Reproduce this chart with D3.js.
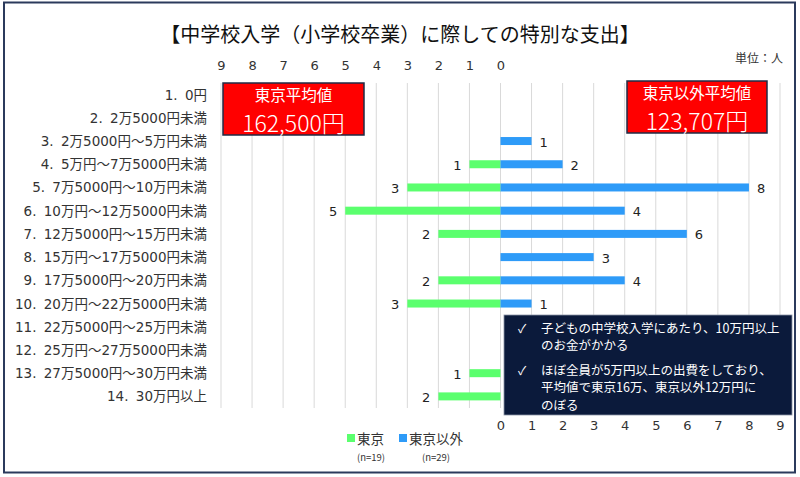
<!DOCTYPE html>
<html><head><meta charset="utf-8">
<script src="https://cdn.jsdelivr.net/npm/d3@7"></script>
<style>body{margin:0;background:#fff}svg{display:block;font-family:"Noto Sans CJK JP","Noto Sans",sans-serif}</style>
</head><body><svg id="c" width="800" height="477"></svg>
<script>
const categories = ["1. 0円","2. 2万5000円未満","3. 2万5000円～5万円未満","4. 5万円～7万5000円未満","5. 7万5000円～10万円未満","6. 10万円～12万5000円未満","7. 12万5000円～15万円未満","8. 15万円～17万5000円未満","9. 17万5000円～20万円未満","10. 20万円～22万5000円未満","11. 22万5000円～25万円未満","12. 25万円～27万5000円未満","13. 27万5000円～30万円未満","14. 30万円以上"];
const tokyo = [0,0,0,1,3,5,2,0,2,3,0,0,1,2];
const other = [0,0,1,2,8,4,6,3,4,1,0,0,0,0];
const ticks = [0,1,2,3,4,5,6,7,8,9];
const seriesNames = ["東京","東京以外"];
const seriesN = ["(n=19)","(n=29)"];
const title = "【中学校入学（小学校卒業）に際しての特別な支出】";
const unitLabel = "単位：人";
const avgLabels = ["東京平均値","東京以外平均値"];
const avgValues = ["162,500円","123,707円"];
const notes = [["子どもの中学校入学にあたり、10万円以上","のお金がかかる"],["ほぼ全員が5万円以上の出費をしており、","平均値で東京16万、東京以外12万円に","のぼる"]];

const GREEN="#5BFF6E", BLUE="#2E9BF8";
const LATIN='"DejaVu Sans","Noto Sans CJK JP",sans-serif';
const svg = d3.select("#c");
const x = d3.scaleLinear().domain([-9,9]).range([221,780]);
const y = d3.scaleBand().domain(categories).range([83,408]);

// frame
svg.append("rect").attr("x",4).attr("y",2.5).attr("width",791).attr("height",470)
  .attr("fill","#fff").attr("stroke","#2b3a5c").attr("stroke-width",2);

svg.append("text").attr("x",400).attr("y",33).attr("text-anchor","middle")
  .attr("dominant-baseline","central").attr("font-size",20).attr("fill","#111").text(title);
svg.append("text").attr("x",783).attr("y",57).attr("text-anchor","end")
  .attr("dominant-baseline","central").attr("font-size",12).attr("fill","#333").text(unitLabel);

// gridlines
const gridVals = d3.range(-9,10);
svg.append("g").selectAll("line").data(gridVals).join("line")
  .attr("x1",d=>x(d)).attr("x2",d=>x(d)).attr("y1",83).attr("y2",408)
  .attr("stroke","#d9d9d9").attr("stroke-width",1);

// axes
const topAx = svg.append("g").attr("transform","translate(0,70)")
  .call(d3.axisTop(x).tickValues(ticks.map(t=>-t)).tickFormat(d=>Math.abs(d)).tickSize(0).tickPadding(0));
const botAx = svg.append("g").attr("transform","translate(0,421)")
  .call(d3.axisBottom(x).tickValues(ticks).tickFormat(d=>d).tickSize(0).tickPadding(0));
[topAx,botAx].forEach(g=>{
  g.attr("font-family",null).attr("font-size",null);
  g.select(".domain").remove();
  g.selectAll("text").attr("font-size",13).attr("fill","#333").style("font-family",LATIN);
});

// category labels: prefix number + rest
const cat = svg.append("g").selectAll("text").data(categories).join("text")
  .attr("x",207).attr("y",d=>y(d)+y.bandwidth()/2).attr("text-anchor","end")
  .attr("dominant-baseline","central").attr("font-size",13.5).attr("fill","#333")
  .style("font-family",LATIN);
cat.append("tspan").text(d=>d.split(" ")[0]);
cat.append("tspan").attr("dx",3).text(d=>" "+d.split(" ").slice(1).join(" "));

const bh = 8;
const rows = categories.map((c,i)=>({c,t:tokyo[i],o:other[i]}));
svg.append("g").selectAll("rect").data(rows.filter(d=>d.t>0)).join("rect")
  .attr("x",d=>x(-d.t)).attr("width",d=>x(0)-x(-d.t))
  .attr("y",d=>y(d.c)+y.bandwidth()/2-bh/2).attr("height",bh).attr("fill",GREEN);
svg.append("g").selectAll("rect").data(rows.filter(d=>d.o>0)).join("rect")
  .attr("x",x(0)).attr("width",d=>x(d.o)-x(0))
  .attr("y",d=>y(d.c)+y.bandwidth()/2-bh/2).attr("height",bh).attr("fill",BLUE);
svg.append("g").selectAll("text").data(rows.filter(d=>d.t>0)).join("text")
  .attr("x",d=>x(-d.t)-8).attr("y",d=>y(d.c)+y.bandwidth()/2+1).attr("text-anchor","end")
  .attr("dominant-baseline","central").attr("font-size",13).attr("fill","#222")
  .style("font-family",LATIN).text(d=>d.t);
svg.append("g").selectAll("text").data(rows.filter(d=>d.o>0)).join("text")
  .attr("x",d=>x(d.o)+8).attr("y",d=>y(d.c)+y.bandwidth()/2+1).attr("text-anchor","start")
  .attr("dominant-baseline","central").attr("font-size",13).attr("fill","#222")
  .style("font-family",LATIN).text(d=>d.o);

// average boxes
const boxes=[{x:223,y:83,w:141,h:52},{x:627,y:81,w:140,h:52}];
boxes.forEach((b,i)=>{
  svg.append("rect").attr("x",b.x).attr("y",b.y).attr("width",b.w).attr("height",b.h)
    .attr("fill","#FF0000").attr("stroke","#1f2b45").attr("stroke-width",1.5);
  svg.append("text").attr("x",b.x+b.w/2).attr("y",b.y+11).attr("text-anchor","middle")
    .attr("dominant-baseline","central").attr("font-size",15.5).attr("fill","#fff").text(avgLabels[i]);
  svg.append("text").attr("x",b.x+b.w/2).attr("y",b.y+39).attr("text-anchor","middle")
    .attr("dominant-baseline","central").attr("font-size",23).attr("font-weight",300).attr("fill","#fff").text(avgValues[i]);
});

// note box
svg.append("rect").attr("x",504).attr("y",315).attr("width",288).attr("height",100)
  .attr("fill","#0b1a3b").attr("stroke","#8a93a6").attr("stroke-width",0.8);
const noteY=[[327,344.5],[369,386.5,404]];
notes.forEach((lines,i)=>{
  svg.append("text").attr("x",518).attr("y",noteY[i][0]).attr("dominant-baseline","central")
    .attr("font-size",12).attr("fill","#fff").text("✓");
  lines.forEach((l,j)=>svg.append("text").attr("x",541).attr("y",noteY[i][j])
    .attr("dominant-baseline","central").attr("font-size",12.5).attr("fill","#fff").text(l));
});

// legend
const lg=[{x:347,c:GREEN},{x:399,c:BLUE}];
lg.forEach((l,i)=>{
  svg.append("rect").attr("x",l.x).attr("y",434).attr("width",8).attr("height",8).attr("fill",l.c);
  svg.append("text").attr("x",l.x+10).attr("y",438).attr("dominant-baseline","central")
    .attr("font-size",13.5).attr("fill","#333").text(seriesNames[i]);
  svg.append("text").attr("x",[371,436][i]).attr("y",457).attr("text-anchor","middle")
    .attr("dominant-baseline","central").attr("font-size",9.5).attr("fill","#333").text(seriesN[i]);
});
</script></body></html>
